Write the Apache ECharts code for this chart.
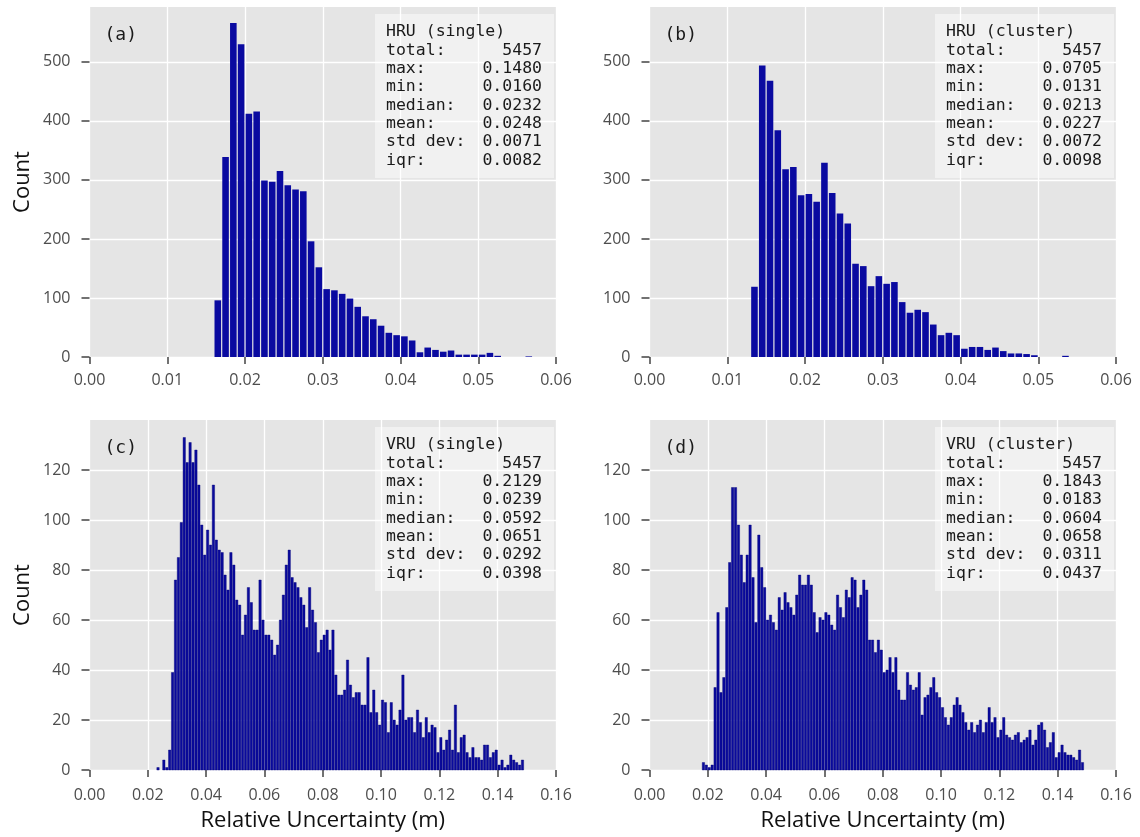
<!DOCTYPE html>
<html><head><meta charset="utf-8">
<script src="https://cdn.jsdelivr.net/npm/echarts@6/dist/echarts.min.js"></script>
<style>html,body{margin:0;padding:0;background:#fff}#c{width:1140px;height:837px}</style>
</head><body><div id="c"></div>
<script>
// ---------- data ----------
const binWidth = 0.001;
const panelLetters = ['(a)', '(b)', '(c)', '(d)'];
const statTitles = ['HRU (single)', 'HRU (cluster)', 'VRU (single)', 'VRU (cluster)'];
const statNames = ['total:', 'max:', 'min:', 'median:', 'mean:', 'std dev:', 'iqr:'];
const statsHruSingle = ['5457', '0.1480', '0.0160', '0.0232', '0.0248', '0.0071', '0.0082'];
const statsHruCluster = ['5457', '0.0705', '0.0131', '0.0213', '0.0227', '0.0072', '0.0098'];
const statsVruSingle = ['5457', '0.2129', '0.0239', '0.0592', '0.0651', '0.0292', '0.0398'];
const statsVruCluster = ['5457', '0.1843', '0.0183', '0.0604', '0.0658', '0.0311', '0.0437'];

const hruSingleStart = 0.016;
const hruSingleCounts = [96, 339, 566, 530, 412, 416, 299, 297, 315, 291, 284, 281, 196, 152, 115, 113, 107, 99, 85, 69, 64, 53, 41, 37, 35, 28, 8, 16, 12, 9, 11, 4, 4, 4, 4, 7, 2, 0, 0, 0, 1];
const hruClusterStart = 0.013;
const hruClusterCounts = [119, 494, 468, 384, 318, 322, 274, 276, 263, 329, 278, 243, 226, 158, 154, 120, 137, 124, 127, 93, 75, 80, 76, 55, 37, 41, 37, 14, 17, 17, 12, 16, 10, 6, 6, 5, 3, 0, 0, 0, 2];
const vruSingleStart = 0.023;
const vruSingleCounts = [1, 0, 4, 1, 8,
  39, 76, 85, 99, 133, 123, 131, 123, 128, 114,
  98, 86, 96, 90, 114, 92, 88, 87, 78, 72,
  87, 82, 68, 66, 54, 62, 73, 67, 56, 56,
  76, 60, 54, 54, 52, 46, 50, 60, 70, 82,
  88, 77, 75, 73, 69, 66, 57, 73, 64, 59,
  47, 52, 54, 56, 48, 56, 38, 30, 30, 32,
  44, 34, 29, 31, 31, 26, 26, 45, 23, 32,
  23, 18, 28, 27, 15, 27, 20, 18, 24, 38,
  20, 21, 21, 15, 24, 19, 13, 21, 15, 18,
  17, 7, 13, 8, 12, 16, 8, 26,
  7, 13, 14, 7, 5, 9, 5, 5, 4, 10, 10, 5, 7, 8, 2, 4, 1, 2, 6, 4, 3, 2, 4];
const vruClusterStart = 0.018;
const vruClusterCounts = [3, 2, 1, 2,
  33, 63, 31, 37, 65, 83, 113, 113, 98, 86,
  75, 86, 98, 77, 59, 94, 81, 73, 60, 62,
  59, 56, 69, 64, 71, 67, 65, 62, 70, 78,
  74, 74, 78, 74, 63, 55, 61, 60, 63, 62,
  58, 56, 70, 65, 61, 72, 69, 77, 76, 65,
  70, 76, 72, 52, 52, 47, 52, 48, 39, 40,
  45, 39, 45, 32, 28, 28, 39, 34, 32, 33,
  39, 22, 29, 30, 33, 37, 31, 29, 25, 21,
  18, 21, 26, 29, 26, 23, 19, 16, 19, 15,
  18, 20, 15, 19, 25, 19, 21, 13, 16, 21,
  14, 13, 12, 14, 15, 11, 12, 13, 16, 10,
  12, 18, 19, 16, 9, 11, 15, 5, 7, 10,
  7, 6, 6, 5, 4, 8, 3];

const yTicksTop = [0, 100, 200, 300, 400, 500];
const yTicksBottom = [0, 20, 40, 60, 80, 100, 120];

// ---------- build ----------
const panels = [
  { start: hruSingleStart, counts: hruSingleCounts, stats: statsHruSingle, xMax: 0.06, xInt: 0.01, yMax: 593, yInt: 100, yTicks: yTicksTop },
  { start: hruClusterStart, counts: hruClusterCounts, stats: statsHruCluster, xMax: 0.06, xInt: 0.01, yMax: 593, yInt: 100, yTicks: yTicksTop },
  { start: vruSingleStart, counts: vruSingleCounts, stats: statsVruSingle, xMax: 0.16, xInt: 0.02, yMax: 140, yInt: 20, yTicks: yTicksBottom },
  { start: vruClusterStart, counts: vruClusterCounts, stats: statsVruCluster, xMax: 0.16, xInt: 0.02, yMax: 140, yInt: 20, yTicks: yTicksBottom }
];
const gridPos = [
  { left: 89.5, top: 7, width: 466.5, height: 350 },
  { left: 649.5, top: 7, width: 466.5, height: 350 },
  { left: 89.5, top: 420, width: 466.5, height: 350 },
  { left: 649.5, top: 420, width: 466.5, height: 350 }
];

const tickFont = 'Open Sans';
const monoFont = '"DejaVu Sans Mono", "Liberation Mono", monospace';

const grid = [], xAxis = [], yAxis = [], series = [], graphic = [];
panels.forEach((p, i) => {
  const g = gridPos[i];
  grid.push({ left: g.left, top: g.top, width: g.width, height: g.height, show: true, backgroundColor: '#e5e5e5', borderWidth: 0, containLabel: false });
  xAxis.push({
    type: 'value', gridIndex: i, min: 0, max: p.xMax, interval: p.xInt,
    name: i >= 2 ? 'Relative Uncertainty (m)' : '',
    nameLocation: 'middle', nameGap: 40,
    nameTextStyle: { fontFamily: tickFont, fontSize: 22, color: '#111' },
    axisLine: { show: false },
    axisTick: { show: true, length: 7, lineStyle: { color: '#444', width: 1.5 } },
    axisLabel: { color: '#4d4d4d', fontFamily: tickFont, fontSize: 16, margin: i >= 2 ? 17 : 15, formatter: v => v.toFixed(2) },
    splitLine: { show: true, lineStyle: { color: '#ffffff', width: 1.3 } }
  });
  yAxis.push({
    type: 'value', gridIndex: i, min: 0, max: p.yMax, interval: p.yInt,
    name: (i % 2 === 0) ? 'Count' : '',
    nameLocation: 'middle', nameGap: 56, nameRotate: 90,
    nameTextStyle: { fontFamily: tickFont, fontSize: 22, color: '#111' },
    axisLine: { show: false },
    axisTick: { show: true, length: 8, customValues: p.yTicks, lineStyle: { color: '#444', width: 1.5 } },
    axisLabel: { color: '#4d4d4d', fontFamily: tickFont, fontSize: 16, margin: 19, customValues: p.yTicks },
    splitLine: { show: true, lineStyle: { color: '#ffffff', width: 1.3 } }
  });
  const data = p.counts.map((c, k) => [+(p.start + k * binWidth).toFixed(4), c]);
  series.push({
    type: 'custom', xAxisIndex: i, yAxisIndex: i, data: data,
    renderItem: function (params, api) {
      const x0 = api.value(0), c = api.value(1);
      if (!c) return null;
      const pTop = api.coord([x0, c]);
      const pBot = api.coord([x0 + binWidth, 0]);
      const w = pBot[0] - pTop[0];
      const wide = w > 5;
      const gap = wide ? 1.2 : 0.55;
      return {
        type: 'rect',
        shape: { x: pTop[0] + gap / 2, y: pTop[1], width: w - gap, height: pBot[1] - pTop[1] },
        style: wide ? { fill: '#0a0aa0' } : { fill: '#0a0a9c', stroke: '#00007a', lineWidth: 0.4 }
      };
    }
  });
  // panel letter
  graphic.push({ type: 'text', x: g.left + 15, y: g.top + 28,
    style: { text: panelLetters[i], fill: '#1a1a1a', font: '18px ' + monoFont, align: 'left', verticalAlign: 'middle', textAlign: 'left', textVerticalAlign: 'middle' } });
  // stats box
  graphic.push({ type: 'rect', shape: { x: g.left + 285.5, y: g.top + 7, width: g.width - 287.5, height: 164 },
    style: { fill: 'rgba(255,255,255,0.45)' }, z: 10 });
  const lx = g.left + 296.5, rx = g.left + g.width - 14, ly0 = g.top + 25, dy = 18.33;
  const boxFont = '16.5px ' + monoFont;
  graphic.push({ type: 'text', x: lx, y: ly0, z: 11,
    style: { text: statTitles[i], fill: '#1a1a1a', font: boxFont, align: 'left', verticalAlign: 'middle', textAlign: 'left', textVerticalAlign: 'middle' } });
  statNames.forEach((n, j) => {
    graphic.push({ type: 'text', x: lx, y: ly0 + dy * (j + 1), z: 11,
      style: { text: n, fill: '#1a1a1a', font: boxFont, align: 'left', verticalAlign: 'middle', textAlign: 'left', textVerticalAlign: 'middle' } });
    graphic.push({ type: 'text', x: rx, y: ly0 + dy * (j + 1), z: 11,
      style: { text: p.stats[j], fill: '#1a1a1a', font: boxFont, align: 'right', verticalAlign: 'middle', textAlign: 'right', textVerticalAlign: 'middle' } });
  });
});

const chart = echarts.init(document.getElementById('c'), null, { renderer: 'canvas' });
chart.setOption({ animation: false, backgroundColor: '#ffffff', grid, xAxis, yAxis, series, graphic });
</script>
</body></html>
